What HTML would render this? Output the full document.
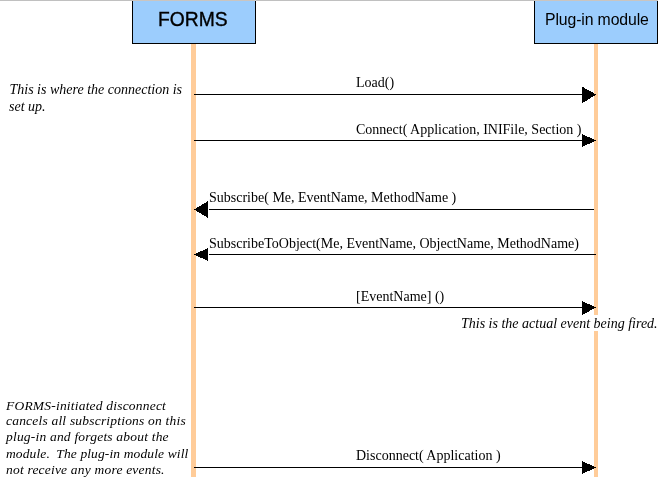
<!DOCTYPE html>
<html><head><meta charset="utf-8">
<style>
html,body{margin:0;padding:0;background:#fff;width:658px;height:477px;overflow:hidden}
svg{display:block;will-change:transform}
.s{font-family:"Liberation Serif",serif;font-size:14px;fill:#000}
.i{font-family:"Liberation Serif",serif;font-size:14px;font-style:italic;fill:#000;white-space:pre}
.n{font-size:13.5px}
.h{font-family:"Liberation Sans",sans-serif;fill:#000}
</style></head>
<body>
<svg width="658" height="477" viewBox="0 0 658 477" shape-rendering="crispEdges">
<!-- top gray line -->
<rect x="0" y="0" width="658" height="1" fill="#c0c0c0"/>
<rect x="132" y="0" width="123" height="1" fill="#cac5c1"/><rect x="255" y="0" width="1" height="1" fill="#d2d2d2"/>
<rect x="534" y="0" width="123" height="1" fill="#cac5c1"/><rect x="657" y="0" width="1" height="1" fill="#d2d2d2"/>
<!-- boxes -->
<rect x="132" y="1" width="124" height="43" fill="#000"/>
<rect x="133" y="1" width="122" height="42" fill="#9ccdfd"/>
<rect x="534" y="1" width="124" height="43" fill="#000"/>
<rect x="535" y="1" width="122" height="42" fill="#9ccdfd"/>
<text class="h" x="158" y="25.8" font-size="19.3" stroke="#000" stroke-width="0.35">FORMS</text>
<text class="h" x="545" y="24.6" font-size="15.8" letter-spacing="-0.12">Plug-in module</text>
<!-- lifelines -->
<rect x="191" y="44" width="5" height="433" fill="#ffcc99"/>
<rect x="594" y="44" width="4" height="433" fill="#ffcc99"/>

<!-- Load() -->
<rect x="194" y="94" width="388" height="1" fill="#000"/>
<polygon points="582,86.6 582,103.4 596.3,94.5" fill="#000"/>
<text class="s" x="356" y="87">Load()</text>

<!-- Connect -->
<rect x="194" y="140" width="388" height="1" fill="#000"/>
<polygon points="582,134 582,147 596,140.5" fill="#000"/>
<text class="s" x="356" y="134">Connect( Application, INIFile, Section )</text>

<!-- Subscribe -->
<rect x="209" y="209" width="385" height="1" fill="#000"/>
<polygon points="208,201 208,218 194,209.5" fill="#000"/>
<text class="s" x="209" y="202">Subscribe( Me, EventName, MethodName )</text>

<!-- SubscribeToObject -->
<rect x="209" y="254" width="387" height="1" fill="#000"/>
<polygon points="208,248 208,261 194,254.5" fill="#000"/>
<text class="s" x="209" y="248">SubscribeToObject(Me, EventName, ObjectName, MethodName)</text>

<!-- EventName -->
<rect x="194" y="307" width="388" height="1" fill="#000"/>
<polygon points="582,301 582,315 596,307.5" fill="#000"/>
<text class="s" x="356" y="301">[EventName] ()</text>

<!-- note event fired -->
<rect x="460" y="315" width="198" height="16" fill="#fff"/>
<text class="i" x="461" y="328">This is the actual event being fired.</text>

<!-- Disconnect -->
<rect x="194" y="467" width="388" height="1" fill="#000"/>
<polygon points="582,461 582,474 596,467.5" fill="#000"/>
<text class="s" x="356" y="460">Disconnect( Application )</text>

<!-- notes -->
<text class="i" x="9.5" y="94">This is where the connection is</text>
<text class="i" x="9" y="111">set up.</text>

<g font-size="13.5" letter-spacing="0.2">
<text class="i n" x="6" y="410">FORMS-initiated disconnect</text>
<text class="i n" x="6" y="425">cancels all subscriptions on this</text>
<text class="i n" x="6" y="441">plug-in and forgets about the</text>
<text class="i n" x="6" y="457.6" letter-spacing="0.12">module. &#8201;The plug-in module will</text>
<text class="i n" x="6" y="473.6">not receive any more events.</text>
</g>
</svg>
</body></html>
